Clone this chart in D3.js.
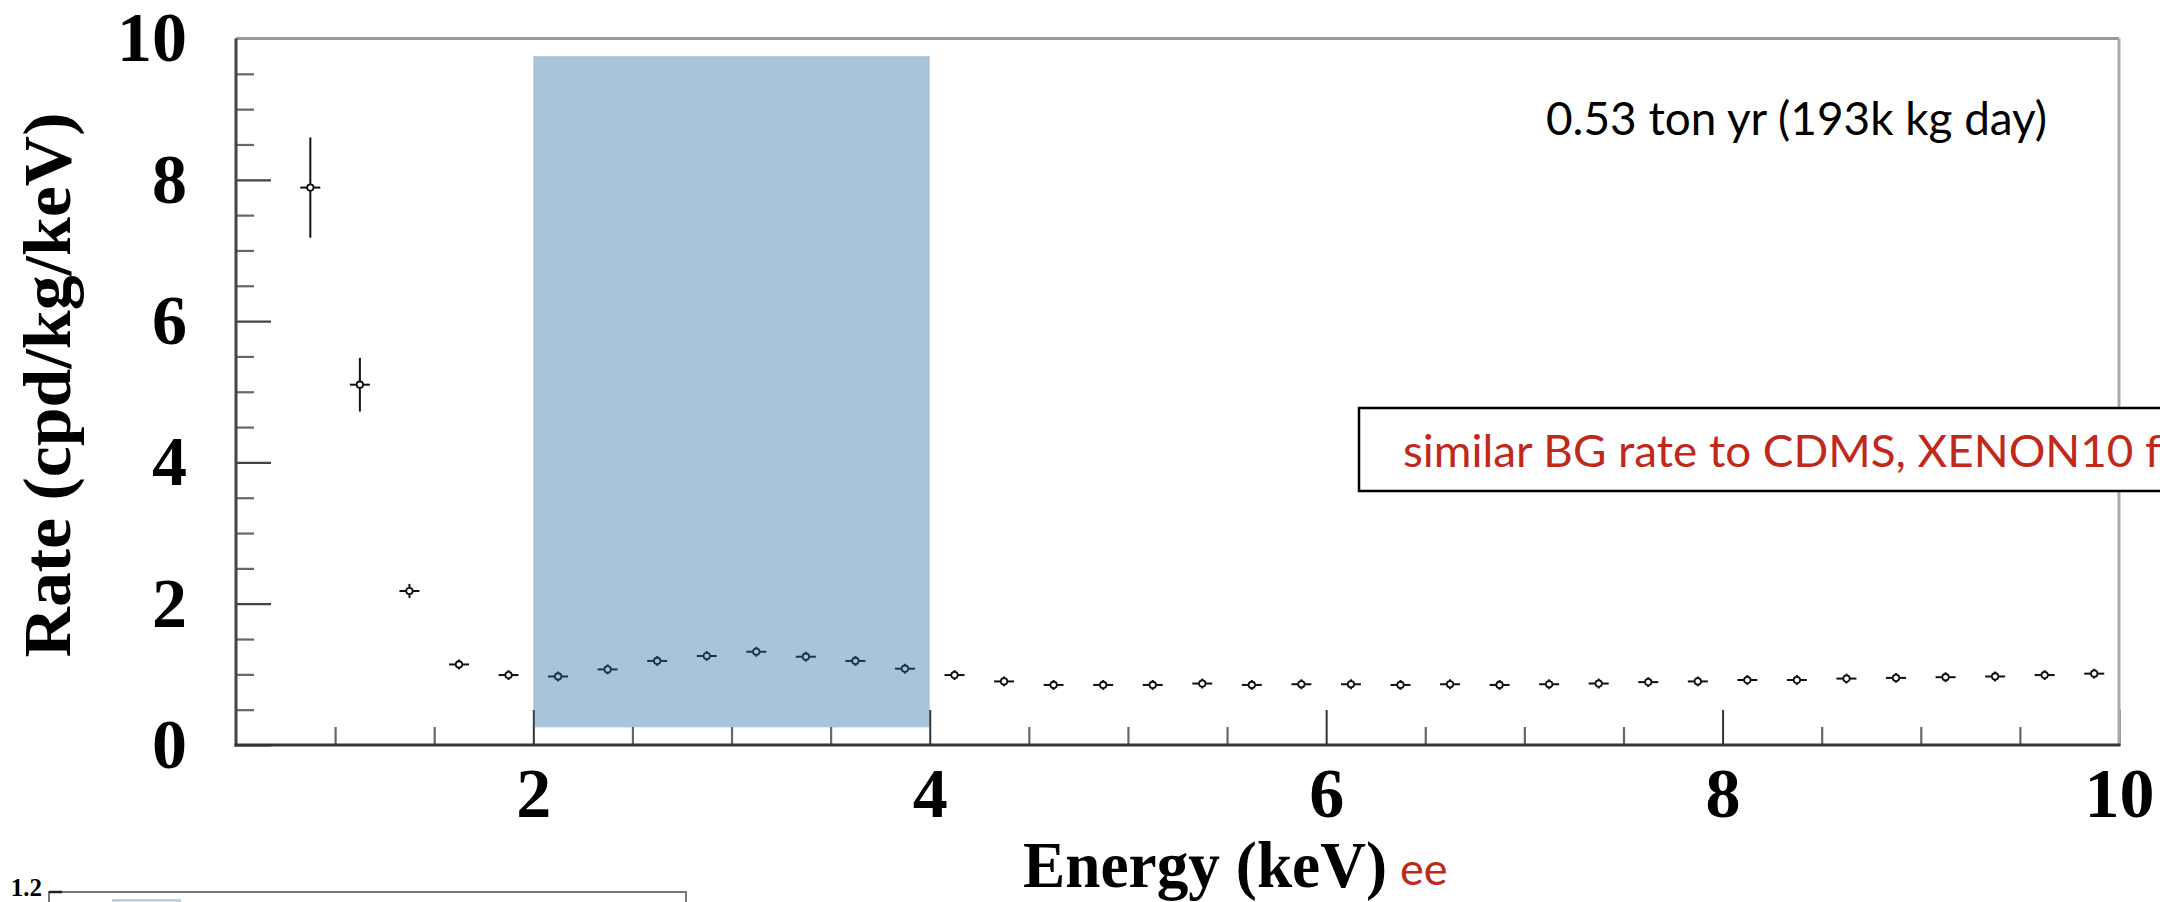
<!DOCTYPE html>
<html>
<head>
<meta charset="utf-8">
<script src="https://cdn.jsdelivr.net/npm/d3@7"></script>
<style>
  html, body { margin: 0; padding: 0; background: #ffffff; }
  svg { display: block; }
</style>
</head>
<body>
<svg id="chart" width="2160" height="902"></svg>
<script>
// Measured event rate per 0.25 keV energy bin
const energyKeV = [0.875, 1.125, 1.375, 1.625, 1.875, 2.125, 2.375, 2.625, 2.875, 3.125,
                   3.375, 3.625, 3.875, 4.125, 4.375, 4.625, 4.875, 5.125, 5.375, 5.625,
                   5.875, 6.125, 6.375, 6.625, 6.875, 7.125, 7.375, 7.625, 7.875, 8.125,
                   8.375, 8.625, 8.875, 9.125, 9.375, 9.625, 9.875];
const rate = [7.89, 5.10, 2.18, 1.14, 0.99, 0.97, 1.07, 1.19, 1.26, 1.32,
              1.25, 1.19, 1.08, 0.99, 0.90, 0.85, 0.85, 0.85, 0.87, 0.85,
              0.86, 0.86, 0.85, 0.86, 0.85, 0.86, 0.87, 0.89, 0.90, 0.92,
              0.92, 0.94, 0.95, 0.96, 0.97, 0.99, 1.01];
const rateErr = [0.71, 0.38, 0.10, 0.07, 0.07, 0.07, 0.07, 0.07, 0.07, 0.07,
                 0.07, 0.07, 0.07, 0.07, 0.07, 0.07, 0.07, 0.07, 0.07, 0.07,
                 0.07, 0.07, 0.07, 0.07, 0.07, 0.07, 0.07, 0.07, 0.07, 0.07,
                 0.07, 0.07, 0.07, 0.07, 0.07, 0.07, 0.07];

// Highlighted analysis window (keV, rate)
const windowKeV = [2, 4];
const windowRate = [0.25, 9.75];

// Axis ticks
const xMajorTicks = [2, 4, 6, 8, 10];
const yMajorTicks = [0, 2, 4, 6, 8, 10];
const xDomain = [0.5, 10];
const yDomain = [0, 10];

// Annotations
const exposureText = "0.53 ton yr  (193k kg day)";
const noteText = "similar BG rate to CDMS, XENON10 f";
const xTitle = "Energy (keV)";
const xTitleUnit = "ee";
const yTitle = "Rate (cpd/kg/keV)";
const lowerPanelTick = "1.2";

const svg = d3.select("#chart");
const frame = { left: 236, right: 2119, top: 38.5, bottom: 745 };

const x = d3.scaleLinear().domain(xDomain).range([frame.left, frame.right]);
const y = d3.scaleLinear().domain(yDomain).range([frame.bottom, frame.top]);

const serif = "'Liberation Serif', 'Times New Roman', serif";
const sans = "Lato, 'Open Sans', sans-serif";
const red = "#c0281a";

// Minor ticks every 0.5 between majors
const xMinorTicks = d3.range(1, 10, 0.5).filter(v => !xMajorTicks.includes(v));
const yMinorTicks = d3.range(0.5, 10, 0.5).filter(v => !yMajorTicks.includes(v));

const axes = svg.append("g");

// Minor ticks
axes.append("g")
  .attr("transform", `translate(0,${frame.bottom})`)
  .call(d3.axisBottom(x).tickValues(xMinorTicks).tickSize(-18).tickFormat(""))
  .call(g => g.select(".domain").remove())
  .call(g => g.selectAll("line").attr("stroke", "#666").attr("stroke-width", 2.2));
axes.append("g")
  .attr("transform", `translate(${frame.left},0)`)
  .call(d3.axisLeft(y).tickValues(yMinorTicks).tickSize(-18).tickFormat(""))
  .call(g => g.select(".domain").remove())
  .call(g => g.selectAll("line").attr("stroke", "#666").attr("stroke-width", 2.2));

// Major ticks with labels
axes.append("g")
  .attr("transform", `translate(0,${frame.bottom})`)
  .call(d3.axisBottom(x).tickValues(xMajorTicks).tickSize(-35).tickPadding(22).tickFormat(d3.format("d")))
  .call(g => g.select(".domain").remove())
  .call(g => g.selectAll("line").attr("stroke", "#333").attr("stroke-width", 2))
  .call(g => g.selectAll("text")
    .attr("fill", "#000").style("font-family", serif).style("font-weight", "bold").style("font-size", "70px"));
axes.append("g")
  .attr("transform", `translate(${frame.left},0)`)
  .call(d3.axisLeft(y).tickValues(yMajorTicks).tickSize(-35).tickPadding(49).tickFormat(d3.format("d")))
  .call(g => g.select(".domain").remove())
  .call(g => g.selectAll("line").attr("stroke", "#444").attr("stroke-width", 2.2))
  .call(g => g.selectAll("text")
    .attr("fill", "#000").style("font-family", serif).style("font-weight", "bold").style("font-size", "70px"));

// Frame: dark axis lines left/bottom, lighter top/right
const [x0, x1] = x.range();
const [yb, yt] = y.range();
svg.append("line").attr("x1", x0).attr("x2", x1).attr("y1", yt).attr("y2", yt)
  .attr("stroke", "#999").attr("stroke-width", 3);
svg.append("line").attr("x1", x1).attr("x2", x1).attr("y1", yt).attr("y2", yb)
  .attr("stroke", "#a8a8a8").attr("stroke-width", 3);
svg.append("line").attr("x1", x0).attr("x2", x0).attr("y1", yt).attr("y2", yb + 1.5)
  .attr("stroke", "#444").attr("stroke-width", 3);
svg.append("line").attr("x1", x0 - 1.5).attr("x2", x1 + 1.5).attr("y1", yb).attr("y2", yb)
  .attr("stroke", "#333").attr("stroke-width", 3);

// Data points: open circle marker with short horizontal bar and vertical error bar
const markerHalfWidth = 10;
const pts = svg.append("g").selectAll("g")
  .data(energyKeV.map((e, i) => ({ e, r: rate[i], err: rateErr[i] })))
  .join("g")
  .attr("transform", d => `translate(${x(d.e)},${y(d.r)})`);
pts.append("line")
  .attr("x1", 0).attr("x2", 0)
  .attr("y1", d => y(d.r + d.err) - y(d.r))
  .attr("y2", d => y(d.r - d.err) - y(d.r))
  .attr("stroke", "#111").attr("stroke-width", 2);
pts.append("line")
  .attr("x1", -markerHalfWidth).attr("x2", markerHalfWidth)
  .attr("y1", 0).attr("y2", 0)
  .attr("stroke", "#111").attr("stroke-width", 2);
pts.append("circle")
  .attr("r", 3.2)
  .attr("fill", "#fff").attr("stroke", "#111").attr("stroke-width", 1.8);

// Translucent analysis window drawn over the points
svg.append("rect")
  .attr("x", x(windowKeV[0]))
  .attr("y", y(windowRate[1]))
  .attr("width", x(windowKeV[1]) - x(windowKeV[0]))
  .attr("height", y(windowRate[0]) - y(windowRate[1]))
  .attr("fill", "rgb(38,108,165)")
  .attr("fill-opacity", 0.4);

// Axis titles
svg.append("text")
  .attr("transform", `translate(70,385) rotate(-90)`)
  .attr("text-anchor", "middle")
  .attr("textLength", 545).attr("lengthAdjust", "spacingAndGlyphs")
  .style("font-family", serif).style("font-weight", "bold").style("font-size", "68px")
  .text(yTitle);

svg.append("text")
  .attr("x", 1023).attr("y", 887)
  .attr("textLength", 364).attr("lengthAdjust", "spacingAndGlyphs")
  .style("font-family", serif).style("font-weight", "bold").style("font-size", "66px")
  .text(xTitle);
svg.append("text")
  .attr("x", 1400).attr("y", 885)
  .attr("fill", red)
  .style("font-family", sans).style("font-size", "45px")
  .text(xTitleUnit);

// Exposure annotation
svg.append("text")
  .attr("x", 1546).attr("y", 135)
  .attr("textLength", 501).attr("lengthAdjust", "spacingAndGlyphs")
  .style("font-family", sans).style("font-size", "47px").attr("fill", "#000")
  .text(exposureText);

// Boxed note (runs off the right edge)
svg.append("rect")
  .attr("x", 1359).attr("y", 408).attr("width", 900).attr("height", 83)
  .attr("fill", "#fff").attr("stroke", "#000").attr("stroke-width", 2.5);
svg.append("text")
  .attr("x", 1403).attr("y", 466.5)
  .attr("textLength", 758).attr("lengthAdjust", "spacingAndGlyphs")
  .attr("fill", red)
  .style("font-family", sans).style("font-size", "44px")
  .text(noteText);

// Top of the lower panel peeking in at the bottom
const lower = svg.append("g");
lower.append("rect")
  .attr("x", 49).attr("y", 892).attr("width", 637).attr("height", 40)
  .attr("fill", "#fff").attr("stroke", "#777").attr("stroke-width", 2);
lower.append("line")
  .attr("x1", 49).attr("x2", 62).attr("y1", 892).attr("y2", 892)
  .attr("stroke", "#222").attr("stroke-width", 2.5);
lower.append("rect")
  .attr("x", 113).attr("y", 900).attr("width", 67).attr("height", 12)
  .attr("fill", "#d3e1ec").attr("stroke", "#a8c3da").attr("stroke-width", 1.5);
lower.append("text")
  .attr("x", 42).attr("y", 896)
  .attr("text-anchor", "end")
  .style("font-family", serif).style("font-weight", "bold").style("font-size", "25px")
  .text(lowerPanelTick);
</script>
</body>
</html>
